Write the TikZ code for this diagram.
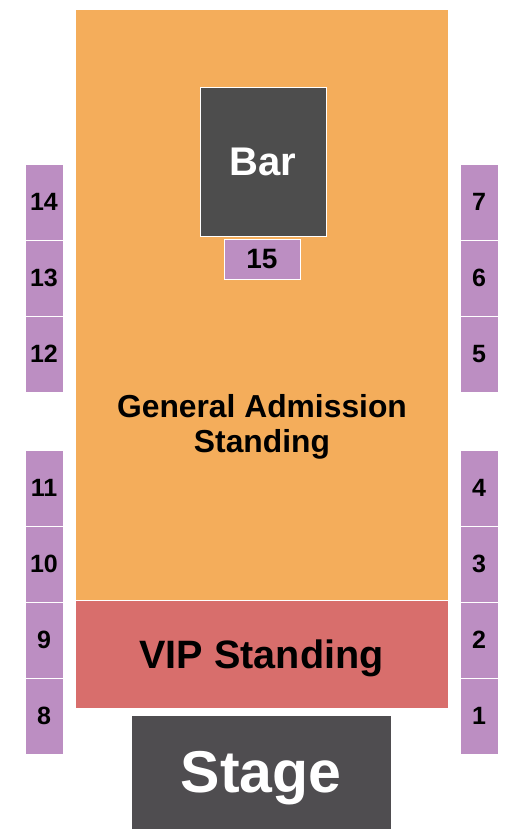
\documentclass[tikz,border=0pt]{standalone}
\usepackage{fontspec}
\setmainfont{Liberation Sans}
\definecolor{gaorange}{HTML}{F4AD5B}
\definecolor{viprose}{HTML}{D86E6C}
\definecolor{seatlilac}{HTML}{BC8EC2}
\definecolor{bargrey}{HTML}{4D4D4D}
\definecolor{stagegrey}{HTML}{4F4D50}
\tikzset{
  zone/.style={draw=white, line width=1pt, inner sep=0pt, text depth=0pt},
  seatbox/.style={zone, fill=seatlilac, minimum width=38pt, minimum height=76pt,
    font=\bfseries\fontsize{25}{25}\selectfont},
}
\begin{document}
\begin{tikzpicture}[x=1pt,y=1pt,yscale=-1]
\useasboundingbox (0,0) rectangle (525,840);

% floor areas
\node[zone, fill=gaorange, minimum width=373pt, minimum height=590pt] (ga) at (261.5,305) {};
\node[zone, fill=viprose, minimum width=373pt, minimum height=108pt,
  font=\bfseries\fontsize{39.6}{40}\selectfont] (vip) at (261.5,654) {VIP Standing};
\node[zone, fill=stagegrey, text=white, minimum width=260pt, minimum height=114pt,
  font=\bfseries\fontsize{59}{59}\selectfont] (stage) at (261,772) {Stage};

% bar and its table
\node[zone, fill=bargrey, text=white, minimum width=126pt, minimum height=148pt,
  font=\bfseries\fontsize{40}{40}\selectfont] (bar) at (263,162) {Bar};
\node[zone, fill=seatlilac, minimum width=76pt, minimum height=40pt,
  font=\bfseries\fontsize{28}{28}\selectfont] (s15) at (262,259) {15};

% text of the general admission area
\node[anchor=north, inner sep=0pt, align=center,
  font=\bfseries\fontsize{31.8}{35}\selectfont] (gatext) at (262,394) {General Admission\\Standing};

% side boxes
\foreach \n/\y in {14/202,13/278,12/354,11/488,10/564,9/640,8/716}
  \node[seatbox] (s\n) at (44,\y) {\n};
\foreach \n/\y in {7/202,6/278,5/354,4/488,3/564,2/640,1/716}
  \node[seatbox] (s\n) at (479,\y) {\n};

\end{tikzpicture}
\end{document}
